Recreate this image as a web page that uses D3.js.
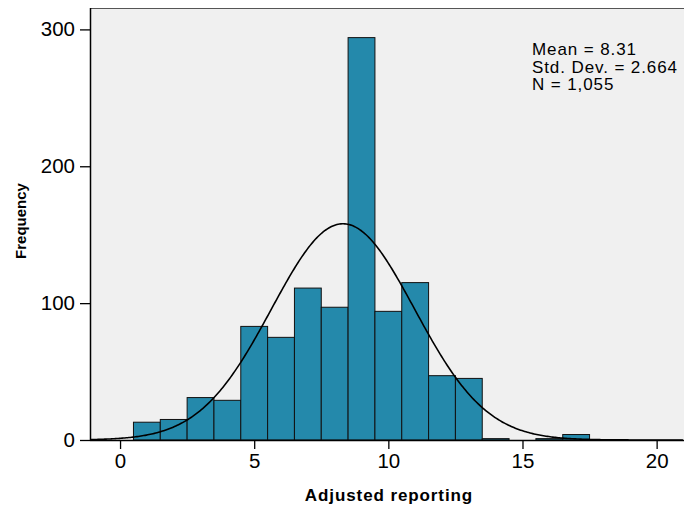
<!DOCTYPE html>
<html>
<head>
<meta charset="utf-8">
<script src="https://cdn.jsdelivr.net/npm/d3@7"></script>
<style>
body { margin: 0; background: #fff; }
text { font-family: "Liberation Sans", Arial, sans-serif; }
</style>
</head>
<body>
<svg id="chart" width="684" height="508"></svg>
<script>

// bin lower edges (width 1) and counts
var binStarts = [0.5, 1.5, 2.5, 3.5, 4.5, 5.5, 6.5, 7.5, 8.5, 9.5, 10.5, 11.5, 12.5, 13.5, 14.5, 15.5, 16.5];
var counts    = [13, 15, 31, 29, 83, 75, 111, 97, 294, 94, 115, 47, 45, 1, 0, 1, 4];
var xTicks = [0, 5, 10, 15, 20];
var yTicks = [0, 100, 200, 300];
var stats = ["Mean = 8.31", "Std. Dev. = 2.664", "N = 1,055"];
var mean = 8.31, sd = 2.664, n = 1055, binW = 1;

var svg = d3.select("#chart");
var pLeft = 90, pTop = 8, pRight = 684, pBottom = 440;

var x = d3.scaleLinear().domain([-1.12, 21.02]).range([pLeft, pRight]);
var y = d3.scaleLinear().domain([0, 300]).range([pBottom, 29.4]);

// plot background
svg.append("rect")
    .attr("x", pLeft).attr("y", pTop)
    .attr("width", pRight - pLeft).attr("height", pBottom - pTop)
    .style("fill", "#f0f0f0");

// top frame line
svg.append("line")
    .attr("x1", pLeft).attr("x2", pRight)
    .attr("y1", pTop + 0.5).attr("y2", pTop + 0.5)
    .style("stroke", "#555").style("stroke-width", 1);

var bins = binStarts.map(function(s, i){ return {x0: s, x1: s + binW, c: counts[i]}; });

svg.selectAll("rect.bar")
    .data(bins.filter(function(d){ return d.c > 0; }))
    .enter().append("rect")
    .attr("class", "bar")
    .attr("x", function(d){ return x(d.x0); })
    .attr("y", function(d){ return y(d.c); })
    .attr("width", function(d){ return x(d.x1) - x(d.x0); })
    .attr("height", function(d){ return y(0) - y(d.c); })
    .style("fill", "#2489ab")
    .style("stroke", "#111")
    .style("stroke-width", 1);

// fitted normal curve
var pts = d3.range(-1.12, 21.02, 0.05).map(function(v){
    var z = (v - mean) / sd;
    return [v, n * binW * Math.exp(-0.5 * z * z) / (sd * Math.sqrt(2 * Math.PI))];
});
svg.append("path")
    .datum(pts)
    .attr("d", d3.line().x(function(d){ return x(d[0]); }).y(function(d){ return y(d[1]); }))
    .style("fill", "none")
    .style("stroke", "#000")
    .style("stroke-width", 1.6);

// axes
var xAxis = svg.append("g")
    .attr("transform", "translate(0," + pBottom + ")")
    .call(d3.axisBottom(x).tickValues(xTicks).tickSize(9).tickPadding(4).tickSizeOuter(0));
var yAxis = svg.append("g")
    .attr("transform", "translate(" + pLeft + ",0)")
    .call(d3.axisLeft(y).tickValues(yTicks).tickSize(10).tickPadding(5).tickSizeOuter(0));

[xAxis, yAxis].forEach(function(g){
    g.select(".domain").style("stroke", "#000").style("stroke-width", 1.5);
    g.selectAll(".tick line").style("stroke", "#000").style("stroke-width", 1.3);
    g.selectAll(".tick text")
        .style("font-family", "'Liberation Sans', Arial, sans-serif")
        .style("font-size", "20.5px")
        .style("fill", "#000");
});
yAxis.select(".domain").attr("d", "M0.5," + pTop + "V" + pBottom);
xAxis.select(".domain").attr("d", "M" + pLeft + ",0.5H" + pRight);

// axis titles
svg.append("text")
    .attr("x", 389).attr("y", 501)
    .attr("text-anchor", "middle")
    .style("font-size", "17px").style("font-weight", "bold")
    .style("letter-spacing", "0.9px")
    .text("Adjusted reporting");

svg.append("text")
    .attr("transform", "translate(26,221) rotate(-90)")
    .attr("text-anchor", "middle")
    .style("font-size", "15px").style("font-weight", "bold")
    .text("Frequency");

// stats box
svg.selectAll("text.stat")
    .data(stats)
    .enter().append("text")
    .attr("class", "stat")
    .attr("x", 532)
    .attr("y", function(d, i){ return 55 + i * 17.5; })
    .style("font-size", "17px")
    .style("letter-spacing", "0.9px")
    .text(function(d){ return d; });

</script>
</body>
</html>
